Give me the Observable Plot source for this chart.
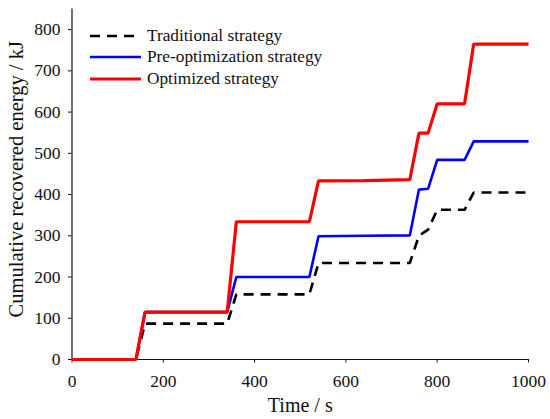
<!DOCTYPE html>
<html>
<head>
<meta charset="utf-8">
<script src="https://cdn.jsdelivr.net/npm/d3@7"></script>
<script src="https://cdn.jsdelivr.net/npm/@observablehq/plot@0.6"></script>
<style>
  body { margin: 0; background: #fff; }
  #wrap { position: relative; width: 550px; height: 419px; font-family: "Liberation Serif", "Times New Roman", serif; }
  #wrap svg, #wrap svg text, #wrap svg g { font-family: "Liberation Serif", "Times New Roman", serif !important; }
  #legend { position: absolute; left: 90px; top: 25px; font-size: 17.3px; color: #111; }
  #legend .row { display: flex; align-items: center; height: 21.5px; }
  #legend svg { margin-right: 6px; }
</style>
</head>
<body>
<div id="wrap"></div>
<script>
const times = [0, 140, 160, 340, 360, 520, 540, 640, 740, 760, 780, 800, 860, 880, 1000];
const traditional = [0, 0, 87, 87, 158, 158, 234, 234, 234, 300, 315, 363, 363, 405, 405];
const preOptimization = [0, 0, 115, 115, 200, 200, 299, 300, 301, 412, 414, 484, 484, 529, 529];
const optimized = [0, 0, 115, 115, 334, 334, 433, 434, 436, 549, 549, 620, 620, 765, 765];
const xTicks = [0, 200, 400, 600, 800, 1000];
const yTicks = [0, 100, 200, 300, 400, 500, 600, 700, 800];

const series = [
  {name: "Traditional strategy", values: traditional, color: "#000000", width: 2.6, dash: "10,7"},
  {name: "Pre-optimization strategy", values: preOptimization, color: "#0000ff", width: 2.6, dash: null},
  {name: "Optimized strategy", values: optimized, color: "#ff0000", width: 3.2, dash: null}
];

const rows = series.flatMap(s => times.map((t, i) => ({t, v: s.values[i], name: s.name})));

const chart = Plot.plot({
  width: 550,
  height: 419,
  marginLeft: 71.5,
  marginRight: 22,
  marginTop: 8.5,
  marginBottom: 60,
  style: {fontFamily: "'Liberation Serif', 'Times New Roman', serif", background: "#fff", color: "#111"},
  x: {domain: [0, 1000]},
  y: {domain: [0, 850]},
  marks: [
    Plot.axisX({ticks: xTicks, tickFormat: "d", tickSize: 3.5, tickPadding: 12, fontSize: 17.5, label: null, stroke: "#111"}),
    Plot.axisY({ticks: yTicks, tickFormat: "d", tickSize: 3.5, tickPadding: 8, fontSize: 17.5, label: null, stroke: "#111"}),
    Plot.ruleX([0], {stroke: "#111", strokeWidth: 1.2}),
    Plot.ruleY([0], {stroke: "#111", strokeWidth: 1.2}),
    ...series.map(s => Plot.line(rows.filter(d => d.name === s.name), {
      x: "t", y: "v", stroke: s.color, strokeWidth: s.width,
      strokeDasharray: s.dash, strokeLinejoin: "miter", strokeLinecap: "butt"
    })),
    Plot.text(["Time / s"], {frameAnchor: "bottom", dy: 52, fontSize: 20, fill: "#111"}),
    Plot.text(["Cumulative recovered energy / kJ"], {frameAnchor: "left", textAnchor: "middle", rotate: -90, dx: -56, dy: -5, fontSize: 20.5, fill: "#111"})
  ]
});

const wrap = document.getElementById("wrap");
wrap.appendChild(chart);

const legend = document.createElement("div");
legend.id = "legend";
for (const s of series) {
  const row = document.createElement("div");
  row.className = "row";
  const ns = "http://www.w3.org/2000/svg";
  const sv = document.createElementNS(ns, "svg");
  sv.setAttribute("width", "51");
  sv.setAttribute("height", "10");
  const ln = document.createElementNS(ns, "line");
  ln.setAttribute("x1", "0"); ln.setAttribute("x2", "51");
  ln.setAttribute("y1", "5"); ln.setAttribute("y2", "5");
  ln.setAttribute("stroke", s.color);
  ln.setAttribute("stroke-width", s.width);
  if (s.dash) ln.setAttribute("stroke-dasharray", s.dash);
  sv.appendChild(ln);
  row.appendChild(sv);
  const tx = document.createElement("span");
  tx.textContent = s.name;
  row.appendChild(tx);
  legend.appendChild(row);
}
wrap.appendChild(legend);
</script>
</body>
</html>
